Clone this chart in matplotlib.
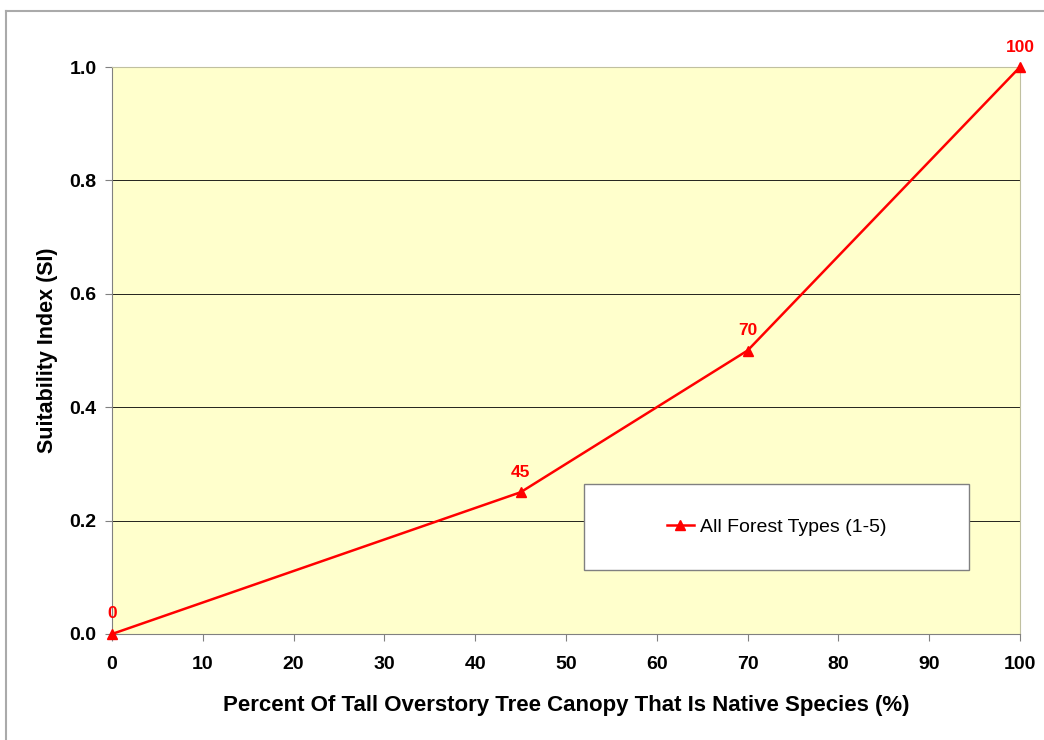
import matplotlib
matplotlib.use('Agg')
import matplotlib.pyplot as plt
from matplotlib.lines import Line2D
from matplotlib.patches import Rectangle

# 数据
canopy_pct = [0, 45, 70, 100]
si_values = [0.0, 0.25, 0.5, 1.0]
point_labels = ['0', '45', '70', '100']
series_name = 'All Forest Types (1-5)'

plt.rcParams['font.family'] = ['Liberation Sans', 'DejaVu Sans']

fig = plt.figure(figsize=(10.44, 7.4), dpi=100)
# 外边框（只看得到左边和上边）
fig.add_artist(Line2D([6/1044, 6/1044], [0, 1-11/740], color='#aaaaaa', lw=1.5))
fig.add_artist(Line2D([6/1044, 1], [1-11/740, 1-11/740], color='#aaaaaa', lw=1.5))

ax = fig.add_axes([112/1044, 1-634/740, 908/1044, 567/740])
ax.set_facecolor('#FFFFCC')
ax.set_xlim(0, 100)
ax.set_ylim(0, 1.0)
ax.set_xticks(range(0, 101, 10))
ax.set_yticks([0.0, 0.2, 0.4, 0.6, 0.8, 1.0])
ax.set_yticklabels(['0.0', '0.2', '0.4', '0.6', '0.8', '1.0'])
ax.grid(axis='y', color='black', lw=0.6)
ax.set_axisbelow(True)
for s in ['left', 'bottom']:
    ax.spines[s].set_color('#808080')
for s in ['top', 'right']:
    ax.spines[s].set_color('#c0c0a0')
ax.tick_params(direction='out', length=5, color='#808080', labelsize=14)
ax.tick_params(axis='x', pad=11)
ax.tick_params(axis='y', pad=6)
for lab in ax.get_xticklabels() + ax.get_yticklabels():
    lab.set_fontweight('bold')

ax.plot(canopy_pct, si_values, color='red', lw=1.8, marker='^', ms=7,
        label=series_name, clip_on=False, zorder=5)
for x, y, t in zip(canopy_pct, si_values, point_labels):
    ax.annotate(t, (x, y), xytext=(0, 9), textcoords='offset points',
                ha='center', va='bottom', color='red', fontsize=12.5,
                fontweight='bold', annotation_clip=False)

ax.set_xlabel('Percent Of Tall Overstory Tree Canopy That Is Native Species (%)',
              fontsize=16, fontweight='bold', labelpad=16)
ax.set_ylabel('Suitability Index (SI)', fontsize=15.5, fontweight='bold', labelpad=8)

# 图例外框
box = Rectangle((0.52, 0.113), 0.424, 0.152, transform=ax.transAxes,
                facecolor='white', edgecolor='#808080', lw=1.0, zorder=6)
ax.add_patch(box)
leg = ax.legend(loc='center', bbox_to_anchor=(0.52 + 0.424/2, 0.113 + 0.152/2),
                fontsize=14, frameon=False, handlelength=1.4, handletextpad=0.3)
leg.set_zorder(7)

plt.savefig('out.png', dpi=100)
